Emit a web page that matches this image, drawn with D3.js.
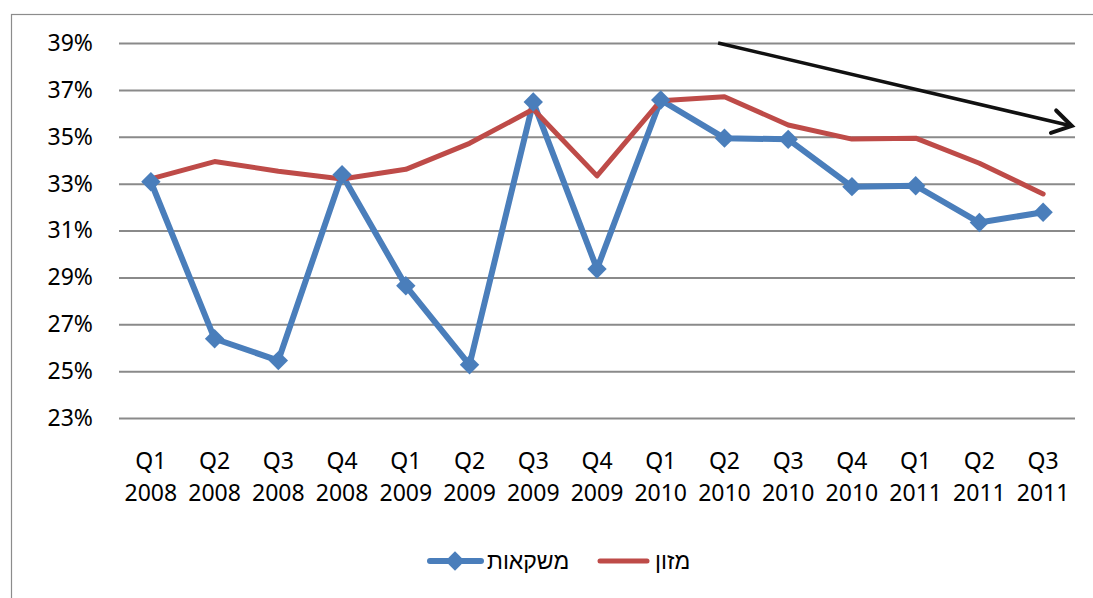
<!DOCTYPE html>
<html>
<head>
<meta charset="utf-8">
<script src="https://cdn.jsdelivr.net/npm/d3@7"></script>
<style>
  html, body { margin: 0; padding: 0; background: #fff; }
  svg { display: block; }
  text { font-family: "Noto Sans", "Liberation Sans", sans-serif; fill: #000; }
</style>
</head>
<body>
<svg id="chart" width="1093" height="598"></svg>
<script>
// Quarters shown on the category axis (two-line labels)
const quarters = ["Q1","Q2","Q3","Q4","Q1","Q2","Q3","Q4","Q1","Q2","Q3","Q4","Q1","Q2","Q3"];
const years    = ["2008","2008","2008","2008","2009","2009","2009","2009","2010","2010","2010","2010","2011","2011","2011"];

// Share (%) per quarter
const beverages = [33.08, 26.38, 25.45, 33.38, 28.64, 25.27, 36.48, 29.36, 36.57, 34.94, 34.89, 32.87, 32.91, 31.34, 31.78];
const food      = [33.20, 33.94, 33.53, 33.20, 33.61, 34.72, 36.17, 33.33, 36.54, 36.71, 35.50, 34.90, 34.94, 33.87, 32.56];

const yTicks = [23, 25, 27, 29, 31, 33, 35, 37, 39];

// Trend arrow, in (category index, %) space
const trendFrom = [8.9, 39];
const trendTo   = [14.45, 35.46];

const seriesNames = ["משקאות", "מזון"];
const blue = "#4A7EBB", red = "#BE4B48";

const svg = d3.select("#chart");
const plot = { left: 119, right: 1075, top: 43, bottom: 418 };

// Outer chart frame
svg.append("rect")
  .attr("x", 11.5).attr("y", 14.5)
  .attr("width", 1200).attr("height", 700)
  .attr("fill", "none").attr("stroke", "#8c8c8c").attr("stroke-width", 1.2);

const keys = quarters.map((q, i) => i);
const x = d3.scaleBand().domain(keys).range([plot.left, plot.right]);
const xi = d3.scaleLinear().domain([0, keys.length - 1])
  .range([x(0) + x.bandwidth() / 2, x(keys.length - 1) + x.bandwidth() / 2]);
const y = d3.scaleLinear().domain([23, 39]).range([plot.bottom, plot.top]);

// Horizontal gridlines + y labels
const yAxis = d3.axisLeft(y).tickValues(yTicks)
  .tickSize(-(plot.right - plot.left)).tickPadding(26)
  .tickFormat(d => d + "%");
const gy = svg.append("g").attr("transform", `translate(${plot.left},0)`).call(yAxis);
gy.select(".domain").remove();
gy.selectAll(".tick line").attr("stroke", "#8a8a8a").attr("stroke-width", 2);
gy.selectAll(".tick text").attr("font-size", 23).attr("fill", "#000");

// Category labels
const gx = svg.append("g");
keys.forEach(i => {
  const cx = xi(i);
  const t = gx.append("text").attr("text-anchor", "middle").attr("font-size", 23);
  t.append("tspan").attr("x", cx).attr("y", 469).text(quarters[i]);
  t.append("tspan").attr("x", cx).attr("y", 501).text(years[i]);
});

// Series lines
const line = d3.line().x((d, i) => xi(i)).y(d => y(d));

svg.append("path").datum(beverages)
  .attr("d", line).attr("fill", "none")
  .attr("stroke", blue).attr("stroke-width", 6)
  .attr("stroke-linejoin", "round").attr("stroke-linecap", "round");

svg.append("path").datum(food)
  .attr("d", line).attr("fill", "none")
  .attr("stroke", red).attr("stroke-width", 5)
  .attr("stroke-linejoin", "round").attr("stroke-linecap", "round");

// Diamond markers on the beverages series
const diamond = d3.symbol().type(d3.symbolDiamond2).size(240);
svg.append("g").selectAll("path").data(beverages).join("path")
  .attr("transform", (d, i) => `translate(${xi(i)},${y(d)})`)
  .attr("d", diamond).attr("fill", blue);

// Trend arrow
const ax0 = xi(trendFrom[0]), ay0 = y(trendFrom[1]);
const ax1 = xi(trendTo[0]),   ay1 = y(trendTo[1]);
svg.append("line")
  .attr("x1", ax0).attr("y1", ay0).attr("x2", ax1).attr("y2", ay1)
  .attr("stroke", "#111").attr("stroke-width", 3.5);
const ang = Math.atan2(ay1 - ay0, ax1 - ax0);
const headLen = 22, spread = 0.55;
const head = [
  [ax1 - headLen * Math.cos(ang - spread), ay1 - headLen * Math.sin(ang - spread)],
  [ax1, ay1],
  [ax1 - headLen * Math.cos(ang + spread), ay1 - headLen * Math.sin(ang + spread)]
];
svg.append("path").attr("d", d3.line()(head))
  .attr("fill", "none").attr("stroke", "#111").attr("stroke-width", 4)
  .attr("stroke-linejoin", "miter").attr("stroke-linecap", "round");

// Legend
const lg = svg.append("g");
const legendY = 561;
// beverages entry
lg.append("line").attr("x1", 430).attr("x2", 481).attr("y1", legendY).attr("y2", legendY)
  .attr("stroke", blue).attr("stroke-width", 6).attr("stroke-linecap", "round");
lg.append("path").attr("transform", `translate(455,${legendY})`).attr("d", diamond).attr("fill", blue);
lg.append("text").attr("x", 487).attr("y", legendY + 8).attr("font-size", 23).text(seriesNames[0]);
// food entry
lg.append("line").attr("x1", 600).attr("x2", 647).attr("y1", legendY).attr("y2", legendY)
  .attr("stroke", red).attr("stroke-width", 5).attr("stroke-linecap", "round");
lg.append("text").attr("x", 655).attr("y", legendY + 8).attr("font-size", 23).text(seriesNames[1]);
</script>
</body>
</html>
